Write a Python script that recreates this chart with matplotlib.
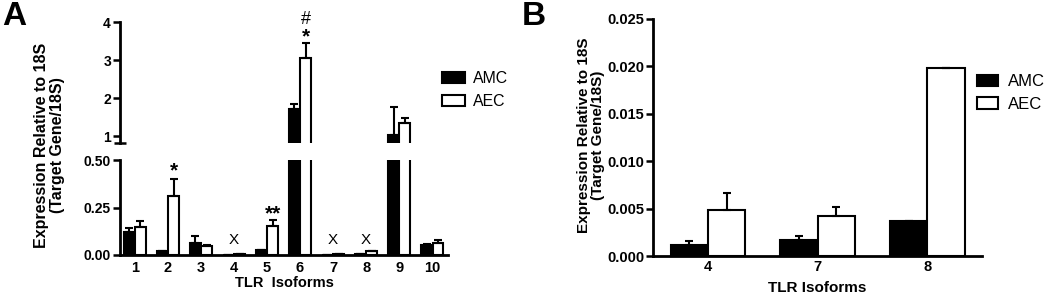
import matplotlib
matplotlib.use("Agg")
import matplotlib.pyplot as plt
import numpy as np

plt.rcParams['font.family'] = ['Liberation Sans', 'DejaVu Sans']
plt.rcParams['font.weight'] = 'bold'

# panel A data
isoforms_a = ['1', '2', '3', '4', '5', '6', '7', '8', '9', '10']
amc_a = [0.12, 0.02, 0.065, 0.001, 0.025, 1.71, 0.0016, 0.0037, 1.03, 0.05]
amc_a_err = [0.02, 0.0, 0.035, 0.0, 0.0, 0.13, 0.0, 0.0, 0.73, 0.01]
aec_a = [0.145, 0.31, 0.045, 0.005, 0.155, 3.05, 0.0042, 0.02, 1.34, 0.065]
aec_a_err = [0.035, 0.09, 0.01, 0.0, 0.03, 0.40, 0.0, 0.0, 0.13, 0.015]

# panel B data
isoforms_b = ['4', '7', '8']
amc_b = [0.00113, 0.00165, 0.00373]
amc_b_err = [0.00045, 0.00043, 0.0]
aec_b = [0.00489, 0.00419, 0.01979]
aec_b_err = [0.0018, 0.00095, 0.0]

W = 0.32
OFF = 0.17
LW = 1.5
YLAB = 'Expression Relative to 18S\n(Target Gene/18S)'

fig = plt.figure(figsize=(10.5, 2.95), dpi=100)


def style(ax, size=10):
    for s in ['top', 'right']:
        ax.spines[s].set_visible(False)
    for s in ['left', 'bottom']:
        ax.spines[s].set_linewidth(2)
    ax.tick_params(width=1.8, length=5, labelsize=size, pad=1.5)
    for lab in ax.get_xticklabels() + ax.get_yticklabels():
        lab.set_fontweight('bold')


def bars(ax, x, amc, amc_err, aec, aec_err, width, off):
    x = np.asarray(x, dtype=float)
    ax.bar(x - off, amc, width, color='black', edgecolor='black', lw=LW,
           yerr=[np.zeros(len(amc)), amc_err], capsize=3,
           error_kw=dict(elinewidth=LW, capthick=LW, ecolor='black'), label='AMC')
    ax.bar(x + off, aec, width, color='white', edgecolor='black', lw=LW,
           yerr=[np.zeros(len(aec)), aec_err], capsize=3,
           error_kw=dict(elinewidth=LW, capthick=LW, ecolor='black'), label='AEC')


xa = np.arange(1, len(isoforms_a) + 1)

# panel A, lower part
ax_lo = fig.add_axes([0.1143, 0.1356, 0.3124, 0.322])
bars(ax_lo, xa, amc_a, amc_a_err, aec_a, aec_a_err, W, OFF)
ax_lo.set_ylim(0, 0.5)
ax_lo.set_xlim(0.55, 10.48)
ax_lo.set_yticks([0, 0.25, 0.5])
ax_lo.set_yticklabels(['0.00', '0.25', '0.50'])
ax_lo.set_xticks(xa)
ax_lo.set_xticklabels(isoforms_a)
style(ax_lo)
ax_lo.tick_params(axis='x', length=0, pad=4, labelsize=10.5)
ax_lo.set_xlabel('TLR  Isoforms', fontsize=10.5, fontweight='bold', labelpad=1)

# panel A, upper part
ax_hi = fig.add_axes([0.1143, 0.515, 0.3124, 0.41])
bars(ax_hi, xa, amc_a, amc_a_err, aec_a, aec_a_err, W, OFF)
ax_hi.set_ylim(0.82, 4)
ax_hi.set_xlim(0.55, 10.48)
ax_hi.set_yticks([1, 2, 3, 4])
ax_hi.spines['bottom'].set_visible(False)
ax_hi.set_xticks([])
style(ax_hi)
ax_hi.set_yticks([0.82], minor=True)
ax_hi.tick_params(axis='y', which='minor', direction='inout', length=9, width=1.8)

fig.text(0.047, 0.508, YLAB, rotation=90, ha='center', va='center',
         fontsize=11.5, fontweight='bold', linespacing=1.05)

# annotations panel A
ax_lo.text(2 + OFF, 0.416, '*', ha='center', va='baseline', fontsize=15, fontweight='bold')
ax_lo.text(5 + OFF, 0.19, '**', ha='center', va='baseline', fontsize=15, fontweight='bold')
for k in [4, 7, 8]:
    ax_lo.text(k, 0.06, 'X', ha='center', va='baseline', fontsize=11, fontweight='normal')
ax_hi.text(6 + OFF, 3.47, '*', ha='center', va='baseline', fontsize=15, fontweight='bold')
ax_hi.text(6 + OFF, 3.95, '#', ha='center', va='baseline', fontsize=13, fontweight='normal',
           clip_on=False)

h, l = ax_lo.get_legend_handles_labels()
fig.legend(h, l, loc='upper left', bbox_to_anchor=(0.421, 0.76), frameon=False,
           borderpad=0, borderaxespad=0,
           prop=dict(size=11.4, weight='normal'), handlelength=1.45, handleheight=0.7,
           labelspacing=0.5, handletextpad=0.5)

fig.text(0.002, 0.995, 'A', fontsize=24, fontweight='bold', ha='left', va='top')

# panel B
xb = np.arange(len(isoforms_b))
ax_b = fig.add_axes([0.622, 0.1322, 0.3133, 0.8034])
bars(ax_b, xb, amc_b, amc_b_err, aec_b, aec_b_err, 0.34, 0.17)
ax_b.set_ylim(0, 0.025)
ax_b.set_xlim(-0.5, 2.5)
ax_b.set_yticks([0, 0.005, 0.01, 0.015, 0.02, 0.025])
ax_b.set_yticklabels(['0.000', '0.005', '0.010', '0.015', '0.020', '0.025'])
ax_b.set_xticks(xb)
ax_b.set_xticklabels(isoforms_b)
style(ax_b, 10.5)
ax_b.tick_params(axis='x', length=0, pad=3)
ax_b.set_xlabel('TLR Isoforms', fontsize=11, fontweight='bold', labelpad=5)
fig.text(0.563, 0.54, YLAB, rotation=90, ha='center', va='center',
         fontsize=11, fontweight='bold', linespacing=1.05)
hb, lb = ax_b.get_legend_handles_labels()
fig.legend(hb, lb, loc='upper left', bbox_to_anchor=(0.9305, 0.748), frameon=False,
           borderpad=0, borderaxespad=0,
           prop=dict(size=12, weight='normal'), handlelength=1.25, handleheight=0.7,
           labelspacing=0.45, handletextpad=0.6)
fig.text(0.497, 0.995, 'B', fontsize=24, fontweight='bold', ha='left', va='top')

fig.savefig('out.png', dpi=100)
